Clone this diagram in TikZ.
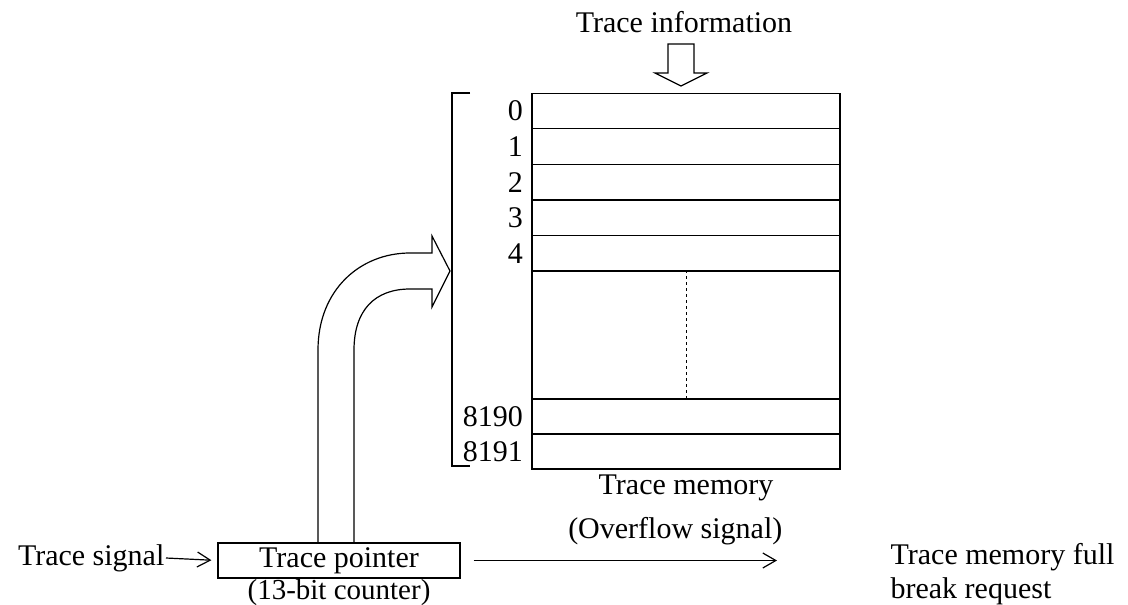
\documentclass[tikz,border=0pt]{standalone}
\usepackage{fontspec}
\setmainfont{Liberation Serif}
\usetikzlibrary{arrows.meta,positioning}

\begin{document}
\begin{tikzpicture}[x=1pt, y=-1pt, line width=1.2pt,
    >={Straight Barb[length=13pt,width=15pt]},
    every node/.style={font=\fontsize{30}{34}\selectfont},
    cell/.style={draw, minimum width=308pt, minimum height=35.6pt, inner sep=0pt},
    addr/.style={left=8pt, inner sep=0pt}]
    \useasboundingbox (0,0) rectangle (1128,605);

    % 存储器各行
    \foreach \i in {0,...,4} {
        \node[cell] (r\i) at (686,{111+35.6*\i}) {};
        \node[addr] at (r\i.west) {\i};
    }
    \node[cell, minimum height=128pt] (gap) at (686,335) {};
    \node[cell, minimum height=35pt] (r8190) at (686,416.5) {};
    \node[cell, minimum height=35pt] (r8191) at (686,451.5) {};
    \node[addr] at (r8190.west) {8190};
    \node[addr] at (r8191.west) {8191};

    % 中间省略的虚线
    \draw[dashed, line width=0.8pt] (gap.north) -- (gap.south);

    % 左侧括号
    \draw (470,93) -- (452,93) -- (452,466) -- (470,466);

    % 顶部输入及空心箭头
    \node (info) at (684,22) {Trace information};
    \draw (668,44) -- (694,44) -- (694,73) -- (707,73) -- (681,86)
        -- (655,73) -- (668,73) -- cycle;
    \node[below=1pt of r8191] (mem) {Trace memory};

    % 跟踪指针
    \node[draw, minimum width=242pt, minimum height=35pt, inner sep=0pt]
        (ptr) at (339,560.5) {Trace pointer};
    \node[anchor=base, inner sep=0pt, font=\fontsize{29}{33}\selectfont]
        (cnt) at (339,599.5) {(13-bit counter)};
    \node[anchor=east, inner sep=1pt] (sig) at (166,558) {Trace signal};
    \draw[->, shorten >=6pt] (sig.east) -- (ptr.west);

    % 溢出信号
    \node[anchor=north west, align=left, inner sep=0pt] (req) at (890,543)
        {Trace memory full\\break request};
    \draw[->, shorten <=13pt, shorten >=113pt] (ptr.east) -- (ptr.east -| req.west)
        node[midway, above=12pt] {(Overflow signal)};

    % 弯曲的空心箭头
    \draw (318,543) -- (318,350) .. controls (318,290) and (360,253) .. (410,253)
        -- (432,253) -- (432,236) -- (450,271) -- (432,307) -- (432,289)
        -- (410,289) .. controls (375,289) and (354,310) .. (354,350) -- (354,543);
\end{tikzpicture}
\end{document}
